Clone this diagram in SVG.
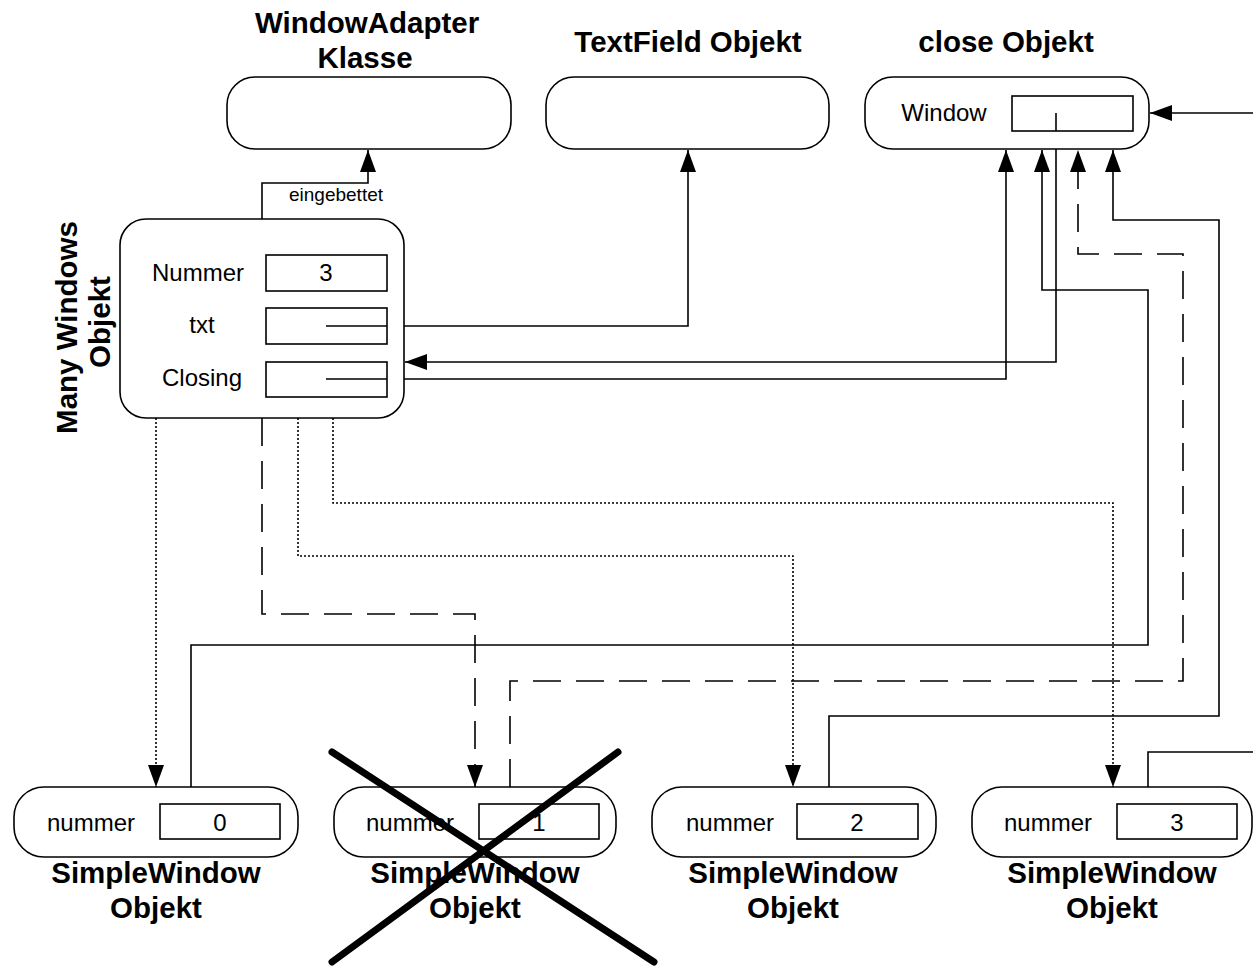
<svg xmlns="http://www.w3.org/2000/svg" width="1253" height="967" viewBox="0 0 1253 967">
<style>
.box{fill:#fff;stroke:#000;stroke-width:1.6}
.fld{fill:#fff;stroke:#000;stroke-width:1.6}
.t{font-family:"Liberation Sans",Arial,sans-serif;font-size:24px;fill:#000}
.b{font-family:"Liberation Sans",Arial,sans-serif;font-size:29.5px;font-weight:bold;fill:#000}
.s{font-family:"Liberation Sans",Arial,sans-serif;font-size:19px;fill:#000}
.ln{fill:none;stroke:#000;stroke-width:1.6}
.dash{stroke-dasharray:28 15}
.dot{stroke-dasharray:2 2}
.arr{marker-end:url(#ah)}
</style>
<defs>
<marker id="ah" markerUnits="userSpaceOnUse" markerWidth="22" markerHeight="16" refX="22" refY="8" orient="auto">
<path d="M0,0 L22,8 L0,16 Z" fill="#000"/>
</marker>
</defs>
<rect width="1253" height="967" fill="#fff"/>

<g id="connectors">
<!-- eingebettet -->
<path class="ln arr" d="M262,219 V183 H368 V150"/>
<text class="s" x="336" y="201" text-anchor="middle">eingebettet</text>
<!-- txt -> TextField -->
<path class="ln arr" d="M326,326 H688 V150"/>
<!-- Closing -> close -->
<path class="ln arr" d="M326,379 H1006 V150"/>
<!-- close Window -> Many Windows -->
<path class="ln arr" d="M1056,113 V362 H405"/>
<!-- from right into close -->
<path class="ln arr" d="M1253,113 H1150"/>
<!-- SW0 -> close -->
<path class="ln arr" d="M191,787 V645 H1148 V290 H1042 V150"/>
<!-- SW1 -> close dashed -->
<path class="ln dash arr" d="M510,787 V681 H1183 V254 H1078 V150"/>
<!-- SW2 -> close -->
<path class="ln arr" d="M829,787 V716 H1219 V220 H1113 V150"/>
<!-- SW3 out -->
<path class="ln" d="M1148,787 V752 H1253"/>
<!-- Many Windows -> SW -->
<path class="ln dot arr" d="M156,418 V787"/>
<path class="ln dash arr" d="M262,418 V614 H475 V787"/>
<path class="ln dot arr" d="M298,418 V556 H793 V787"/>
<path class="ln dot arr" d="M333,418 V503 H1113 V787"/>
</g>

<g id="windowadapter">
<rect class="box" x="227" y="77" width="284" height="72" rx="28"/>
<text class="b" x="367" y="33" text-anchor="middle">WindowAdapter</text>
<text class="b" x="365" y="68" text-anchor="middle">Klasse</text>
</g>

<g id="textfield">
<rect class="box" x="546" y="77" width="283" height="72" rx="28"/>
<text class="b" x="688" y="52" text-anchor="middle">TextField Objekt</text>
</g>

<g id="close">
<rect class="box" x="865" y="77" width="284" height="72" rx="28"/>
<text class="b" x="1006" y="52" text-anchor="middle">close Objekt</text>
<text class="t" x="944" y="121" text-anchor="middle">Window</text>
<rect class="fld" x="1012" y="96" width="121" height="35"/>
<path class="ln" d="M1056,113 V131"/>
</g>

<g id="manywindows">
<rect class="box" x="120" y="219" width="284" height="199" rx="26"/>
<text class="b" transform="translate(77,327.5) rotate(-90)" text-anchor="middle">Many Windows</text>
<text class="b" transform="translate(110,322) rotate(-90)" text-anchor="middle">Objekt</text>
<text class="t" x="198" y="281" text-anchor="middle">Nummer</text>
<rect class="fld" x="266" y="255" width="121" height="36"/>
<text class="t" x="326" y="281" text-anchor="middle">3</text>
<text class="t" x="202" y="333" text-anchor="middle">txt</text>
<rect class="fld" x="266" y="308" width="121" height="36"/>
<text class="t" x="202" y="386" text-anchor="middle">Closing</text>
<rect class="fld" x="266" y="362" width="121" height="35"/>
<path class="ln" d="M326,326 H387 M326,379 H387"/>
</g>

<g id="sw0">
<rect class="box" x="14" y="787" width="284" height="70" rx="30"/>
<text class="t" x="91" y="831" text-anchor="middle">nummer</text>
<rect class="fld" x="160" y="804" width="120" height="35"/>
<text class="t" x="220" y="831" text-anchor="middle">0</text>
<text class="b" x="156" y="883" text-anchor="middle">SimpleWindow</text>
<text class="b" x="156" y="918" text-anchor="middle">Objekt</text>
</g>

<g id="sw1">
<rect class="box" x="334" y="787" width="282" height="70" rx="30"/>
<text class="t" x="410" y="831" text-anchor="middle">nummer</text>
<rect class="fld" x="479" y="804" width="120" height="35"/>
<text class="t" x="539" y="831" text-anchor="middle">1</text>
<text class="b" x="475" y="883" text-anchor="middle">SimpleWindow</text>
<text class="b" x="475" y="918" text-anchor="middle">Objekt</text>
</g>

<g id="sw2">
<rect class="box" x="652" y="787" width="284" height="70" rx="30"/>
<text class="t" x="730" y="831" text-anchor="middle">nummer</text>
<rect class="fld" x="797" y="804" width="121" height="35"/>
<text class="t" x="857" y="831" text-anchor="middle">2</text>
<text class="b" x="793" y="883" text-anchor="middle">SimpleWindow</text>
<text class="b" x="793" y="918" text-anchor="middle">Objekt</text>
</g>

<g id="sw3">
<rect class="box" x="972" y="787" width="280" height="70" rx="30"/>
<text class="t" x="1048" y="831" text-anchor="middle">nummer</text>
<rect class="fld" x="1117" y="804" width="120" height="35"/>
<text class="t" x="1177" y="831" text-anchor="middle">3</text>
<text class="b" x="1112" y="883" text-anchor="middle">SimpleWindow</text>
<text class="b" x="1112" y="918" text-anchor="middle">Objekt</text>
</g>

<g id="cross">
<path d="M332,752 L654,962 M618,752 L332,962" stroke="#000" stroke-width="7" stroke-linecap="round" fill="none"/>
</g>
</svg>
